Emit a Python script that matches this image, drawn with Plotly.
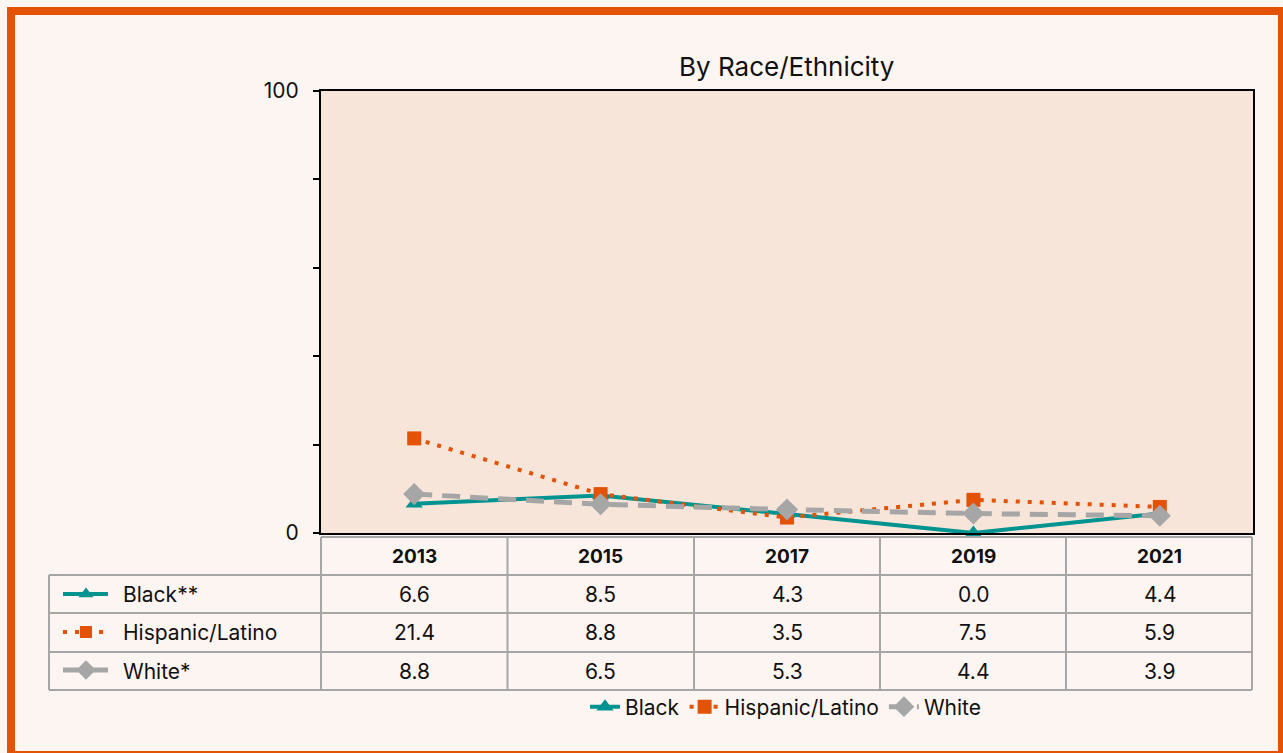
import plotly.graph_objects as go

years = ["2013", "2015", "2017", "2019", "2021"]
series_names = ["Black", "Hispanic/Latino", "White"]
row_labels = ["Black**", "Hispanic/Latino", "White*"]
black = [6.6, 8.5, 4.3, 0.0, 4.4]
hispanic = [21.4, 8.8, 3.5, 7.5, 5.9]
white = [8.8, 6.5, 5.3, 4.4, 3.9]
y_tickvals = [0, 20, 40, 60, 80, 100]
y_ticktext = ["0", "", "", "", "", "100"]
title_text = "By Race/Ethnicity"

W, H = 1283, 753
FONT = "Inter"
TEAL = "#00938F"
ORANGE = "#E35205"
GRAY = "#A6A6A6"
BG = "#FDF5F1"
PLOTBG = "#F8E5DA"
TXT = "#111111"


def px(x):
    return x / W


def py(y):
    return 1 - y / H


styles = [
    dict(color=TEAL, dash="solid", width=4, symbol="triangle-up", size=15),
    dict(color=ORANGE, dash="4px,8px", width=4, symbol="square", size=14),
    dict(color=GRAY, dash="18px,10px", width=5, symbol="diamond", size=17),
]
values = [black, hispanic, white]

fig = go.Figure()
for name, vals, st in zip(series_names, values, styles):
    fig.add_trace(go.Scatter(
        x=list(range(len(years))), y=vals, name=name, mode="lines+markers",
        line=dict(color=st["color"], dash=st["dash"], width=st["width"]),
        marker=dict(symbol=st["symbol"], size=st["size"], color=st["color"]),
        cliponaxis=False, xaxis="x", yaxis="y",
    ))

# legend glyphs inside the data table (pixel overlay axes)
glyph_rows = [594, 632, 670]
for st, gy in zip(styles, glyph_rows):
    fig.add_trace(go.Scatter(
        x=[63, 108], y=[gy, gy], mode="lines", showlegend=False, hoverinfo="skip",
        line=dict(color=st["color"], dash=st["dash"], width=st["width"]),
        xaxis="x2", yaxis="y2",
    ))
    fig.add_trace(go.Scatter(
        x=[86], y=[gy], mode="markers", showlegend=False, hoverinfo="skip",
        marker=dict(symbol=st["symbol"], size=st["size"] - 2, color=st["color"]),
        xaxis="x2", yaxis="y2",
    ))

shapes = []
# plot area background
shapes.append(dict(type="rect", xref="x domain", yref="y domain", x0=0, x1=1, y0=0, y1=1,
                   fillcolor=PLOTBG, line=dict(width=0), layer="below"))
# orange frame
shapes.append(dict(type="rect", xref="paper", yref="paper",
                   x0=px(11), x1=px(1282), y0=py(755), y1=py(11),
                   line=dict(color=ORANGE, width=8), fillcolor="rgba(0,0,0,0)", layer="below"))
# table grid
cols = [321, 507.5, 694, 880, 1066, 1252]
gl = dict(color=GRAY, width=2)
shapes.append(dict(type="line", xref="paper", yref="paper", x0=px(321), x1=px(1252),
                   y0=py(537), y1=py(537), line=gl))
for yy in [575, 613, 652, 690]:
    shapes.append(dict(type="line", xref="paper", yref="paper", x0=px(49), x1=px(1252),
                       y0=py(yy), y1=py(yy), line=gl))
for xx in cols:
    shapes.append(dict(type="line", xref="paper", yref="paper", x0=px(xx), x1=px(xx),
                       y0=py(537), y1=py(690), line=gl))
shapes.append(dict(type="line", xref="paper", yref="paper", x0=px(49), x1=px(49),
                   y0=py(575), y1=py(690), line=gl))

annotations = []
for i, yr in enumerate(years):
    annotations.append(dict(x=i, xref="x", y=py(556), yref="paper", text="<b>" + yr + "</b>",
                            showarrow=False, font=dict(size=19, color=TXT, family=FONT),
                            xanchor="center", yanchor="middle"))
row_y = [594, 632, 671]
for lab, vals, ry in zip(row_labels, values, row_y):
    annotations.append(dict(x=px(121), xref="paper", y=py(ry), yref="paper", text=lab,
                            showarrow=False, font=dict(size=21, color=TXT, family=FONT),
                            xanchor="left", yanchor="middle"))
    for i, v in enumerate(vals):
        annotations.append(dict(x=i, xref="x", y=py(ry), yref="paper", text=f"{v:.1f}",
                                showarrow=False, font=dict(size=21, color=TXT, family=FONT),
                                xanchor="center", yanchor="middle"))
annotations.append(dict(x=px(786), xref="paper", y=py(66), yref="paper", text=title_text,
                        showarrow=False, font=dict(size=26, color=TXT, family=FONT),
                        xanchor="center", yanchor="middle"))

fig.update_layout(
    width=W, height=H, autosize=False,
    margin=dict(l=0, r=0, t=0, b=0, pad=0, autoexpand=False),
    paper_bgcolor=BG, plot_bgcolor="rgba(0,0,0,0)",
    font=dict(family=FONT, size=21, color=TXT),
    xaxis=dict(domain=[px(321), px(1253)], range=[-0.5, 4.5], showticklabels=False, ticks="",
               showline=True, linecolor="black", linewidth=2, mirror=True,
               showgrid=False, zeroline=False, fixedrange=True),
    yaxis=dict(domain=[py(533), py(91)], range=[0, 100], tickvals=y_tickvals,
               ticktext=y_ticktext, ticks="outside", ticklen=6, tickcolor="black",
               tickwidth=1.5, showline=True, linecolor="black", linewidth=2, mirror=True,
               showgrid=False, zeroline=False, tickfont=dict(size=21, family=FONT, color=TXT),
               ticklabelstandoff=10, fixedrange=True),
    xaxis2=dict(domain=[0, 1], range=[0, W], visible=False, anchor="y2", fixedrange=True),
    yaxis2=dict(domain=[0, 1], range=[H, 0], visible=False, anchor="x2", fixedrange=True),
    legend=dict(orientation="h", x=px(786), xanchor="center", y=py(707), yanchor="middle",
                bgcolor="rgba(0,0,0,0)", font=dict(size=21, family=FONT, color=TXT),
                itemwidth=30, tracegroupgap=0),
    shapes=shapes, annotations=annotations,
)

fig.write_html("out.html", post_script="document.body.style.margin='0';",
               config={"displayModeBar": False})
